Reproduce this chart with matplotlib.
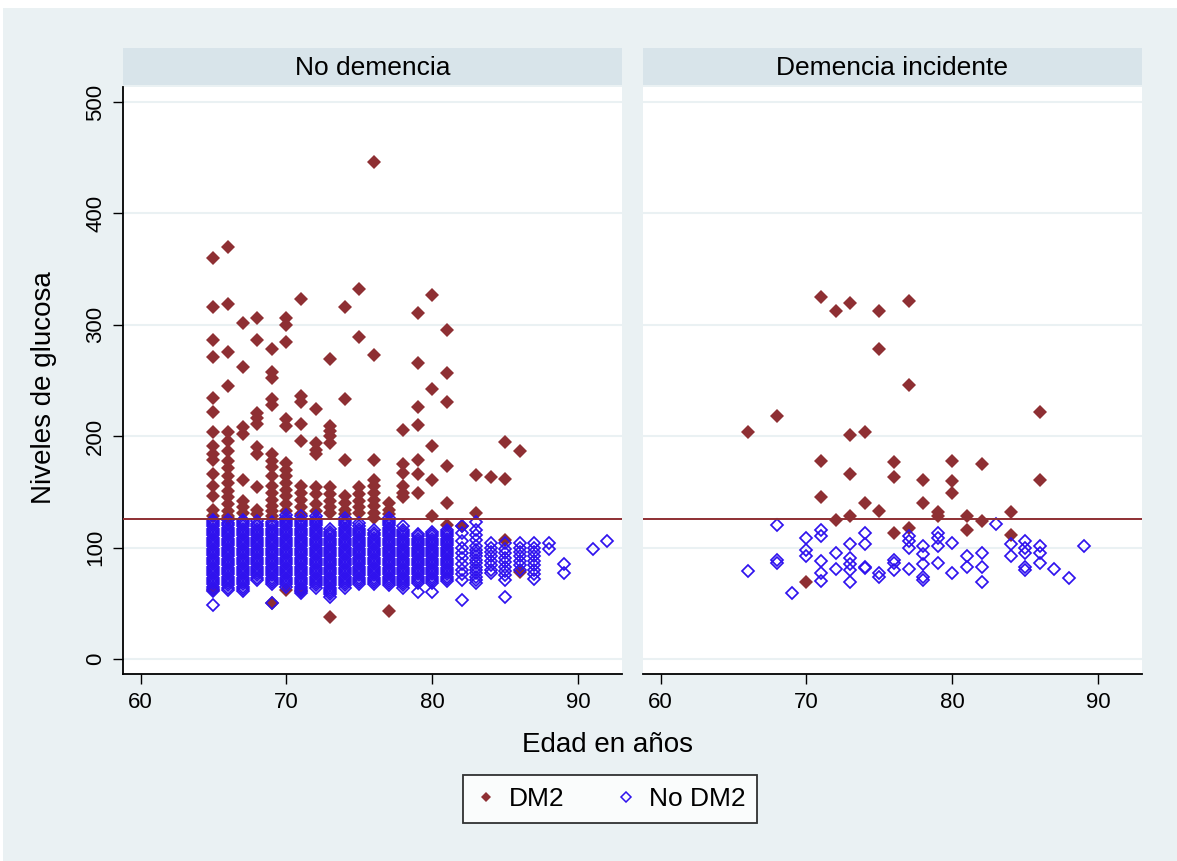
import numpy as np
import matplotlib
matplotlib.use("Agg")
from matplotlib import pyplot as plt
from matplotlib.lines import Line2D
from matplotlib.patches import Rectangle

plt.rcParams['font.family'] = ['Liberation Sans', 'DejaVu Sans']

# ---- datos: panel "No demencia" ----
# DM2 (glucosa por edad)
nd_dm2_age = [65, 65, 65, 65, 65, 65, 65, 65, 65, 65, 65, 65, 65, 65, 65, 65,
              66, 66, 66, 66, 66, 66, 66, 66, 66, 66, 66, 66, 66, 66, 66, 66, 66,
              67, 67, 67, 67, 67, 67, 67, 67,
              68, 68, 68, 68, 68, 68, 68, 68, 68, 68,
              69, 69, 69, 69, 69, 69, 69, 69, 69, 69, 69, 69, 69, 69, 69, 69,
              70, 70, 70, 70, 70, 70, 70, 70, 70, 70, 70, 70, 70, 70,
              71, 71, 71, 71, 71, 71, 71, 71, 71, 71, 71,
              72, 72, 72, 72, 72, 72, 72, 72,
              73, 73, 73, 73, 73, 73, 73, 73, 73, 73, 73,
              74, 74, 74, 74, 74, 74, 74,
              75, 75, 75, 75, 75, 75, 75,
              76, 76, 76, 76, 76, 76, 76, 76, 76, 76,
              77, 77, 77, 77,
              78, 78, 78, 78, 78, 78,
              79, 79, 79, 79, 79, 79, 79,
              80, 80, 80, 80, 80,
              81, 81, 81, 81, 81, 81,
              82, 83, 83, 84, 85, 85, 85, 86, 86]
nd_dm2_glu = [360, 316, 286, 271, 234, 222, 204, 191, 184, 179, 166, 155, 146, 134, 128, 62,
              370, 319, 276, 245, 204, 196, 187, 178, 171, 164, 158, 151, 145, 139, 133, 128, 127,
              302, 262, 208, 202, 161, 142, 136, 131,
              306, 286, 221, 216, 211, 190, 184, 154, 134, 130,
              278, 258, 252, 233, 228, 184, 178, 172, 164, 155, 149, 143, 137, 133, 128, 50,
              306, 300, 285, 215, 209, 176, 170, 164, 158, 152, 146, 139, 133, 62,
              323, 236, 231, 211, 196, 155, 149, 143, 136, 130, 61,
              224, 194, 188, 184, 154, 148, 139, 133,
              269, 209, 205, 200, 194, 154, 148, 142, 136, 131, 38,
              316, 233, 179, 146, 140, 134, 130,
              332, 289, 154, 148, 142, 136, 131,
              446, 273, 179, 161, 155, 149, 143, 137, 131, 127,
              140, 134, 130, 43,
              206, 175, 167, 155, 149, 145,
              311, 266, 226, 210, 179, 166, 149,
              327, 242, 191, 161, 128,
              295, 257, 231, 173, 140, 120,
              119, 165, 131, 163, 195, 162, 107, 187, 78]

# No DM2: una lista de glucosas por cada edad
nd_nodm_ages = [65, 66, 67, 68, 69, 70, 71, 72, 73, 74, 75, 76, 77, 78, 79, 80,
                81, 82, 83, 84, 85, 86, 87, 88, 89, 91, 92]
nd_nodm_glu = [
    [48, 61, 63, 65, 67, 69, 71, 73, 75, 77, 79, 81, 83, 85, 87, 89, 91, 93, 95, 97, 99,
     101, 103, 105, 107, 109, 111, 113, 115, 117, 119, 121, 123, 125],
    [62, 64, 66, 68, 70, 72, 74, 76, 78, 80, 82, 84, 86, 88, 90, 92, 94, 96, 98, 100,
     102, 104, 106, 108, 110, 112, 114, 116, 118, 120, 122, 125],
    [61, 63, 65, 67, 69, 71, 73, 75, 77, 79, 81, 83, 85, 87, 89, 91, 93, 95, 97, 99,
     101, 103, 105, 107, 109, 111, 113, 115, 117, 119, 121, 123, 125],
    [71, 73, 75, 77, 79, 81, 83, 85, 87, 89, 91, 93, 95, 97, 99, 101, 103, 105, 107,
     109, 111, 113, 115, 117, 119, 121, 124],
    [50, 67, 69, 71, 73, 75, 77, 79, 81, 83, 85, 87, 89, 91, 93, 95, 97, 99, 101, 103,
     105, 107, 109, 111, 113, 115, 117, 119, 121, 123],
    [65, 67, 69, 71, 73, 75, 77, 79, 81, 83, 85, 87, 89, 91, 93, 95, 97, 99, 101, 103,
     105, 107, 109, 111, 113, 115, 117, 119, 121, 123, 125, 127, 129],
    [59, 61, 63, 65, 67, 69, 71, 73, 75, 77, 79, 81, 83, 85, 87, 89, 91, 93, 95, 97, 99,
     101, 103, 105, 107, 109, 111, 113, 115, 117, 119, 121, 123, 125, 128],
    [64, 66, 68, 70, 72, 74, 76, 78, 80, 82, 84, 86, 88, 90, 92, 94, 96, 98, 100, 102,
     104, 106, 108, 110, 112, 114, 116, 118, 120, 122, 124, 126, 128],
    [56, 58, 60, 62, 64, 66, 68, 70, 72, 74, 76, 78, 80, 82, 84, 86, 88, 90, 92, 94, 96,
     98, 100, 102, 104, 106, 108, 110, 112, 114, 117],
    [64, 66, 68, 70, 72, 74, 76, 78, 80, 82, 84, 86, 88, 90, 92, 94, 96, 98, 100, 102,
     104, 106, 108, 110, 112, 114, 116, 118, 120, 122, 124, 127],
    [67, 69, 71, 73, 75, 77, 79, 81, 83, 85, 87, 89, 91, 93, 95, 97, 99, 101, 103, 105,
     107, 109, 111, 113, 115, 117, 119, 122],
    [67, 69, 71, 73, 75, 77, 79, 81, 83, 85, 87, 89, 91, 93, 95, 97, 99, 101, 103, 105,
     107, 109, 111, 113, 116],
    [66, 68, 70, 72, 74, 76, 78, 80, 82, 84, 86, 88, 90, 92, 94, 96, 98, 100, 102, 104,
     106, 108, 110, 112, 114, 116, 118, 120, 122, 124, 127],
    [64, 66, 68, 70, 72, 74, 76, 78, 80, 82, 84, 86, 88, 90, 92, 94, 96, 98, 100, 102,
     104, 106, 108, 110, 112, 114, 116, 119],
    [60, 68, 70, 72, 74, 76, 78, 80, 82, 84, 86, 88, 90, 92, 94, 96, 98, 100, 102, 104,
     106, 108, 110, 112],
    [60, 68, 70, 72, 74, 76, 78, 80, 82, 84, 86, 88, 90, 92, 94, 96, 98, 100, 102, 104,
     106, 108, 110, 112, 114],
    [70, 72, 74, 76, 78, 80, 82, 84, 86, 88, 90, 92, 94, 96, 98, 100, 102, 104, 106,
     108, 110, 112, 114, 116],
    [53, 71, 76, 80, 85, 91, 95, 100, 106, 113, 119],
    [68, 71, 74, 77, 80, 83, 86, 89, 92, 95, 98, 101, 107, 111, 116, 123],
    [77, 80, 84, 88, 92, 96, 100, 104],
    [56, 71, 75, 79, 83, 87, 91, 95, 99, 104],
    [80, 84, 88, 92, 96, 100, 104],
    [72, 76, 80, 84, 88, 92, 96, 100, 104],
    [99, 104],
    [77, 85],
    [99],
    [106],
]

# ---- datos: panel "Demencia incidente" ----
di_dm2_age = [71, 72, 73, 75, 77, 75, 77, 68, 66, 73, 74, 86, 71, 76, 80, 82, 73,
              76, 78, 80, 80, 86, 71, 74, 78, 75, 79, 79, 84, 72, 73, 81, 82, 77,
              76, 81, 84, 70]
di_dm2_glu = [325, 312, 320, 312, 321, 278, 246, 218, 204, 201, 204, 222, 178, 177,
              178, 175, 166, 163, 161, 160, 149, 161, 145, 140, 140, 133, 132, 128,
              132, 125, 128, 128, 124, 118, 113, 116, 111, 69]

di_nodm_age = [68, 68, 68, 66, 69, 70, 70, 70, 71, 71, 71, 71, 71, 72, 72, 73, 73,
               73, 73, 73, 74, 74, 74, 74, 75, 75, 76, 76, 76, 77, 77, 77, 77, 78,
               78, 78, 78, 78, 79, 79, 79, 79, 80, 80, 81, 81, 82, 82, 82, 83, 84,
               84, 85, 85, 85, 85, 85, 86, 86, 86, 87, 88, 89]
di_nodm_glu = [120, 89, 86, 79, 59, 109, 98, 92, 116, 110, 88, 77, 70, 95, 81, 103,
               91, 85, 80, 69, 113, 103, 83, 82, 77, 74, 89, 86, 80, 110, 106, 100,
               81, 101, 94, 85, 74, 71, 113, 109, 101, 86, 104, 77, 92, 83, 95, 83,
               69, 121, 103, 92, 106, 100, 95, 83, 80, 101, 95, 86, 81, 73, 101]

umbral = 126
panel_titles = ["No demencia", "Demencia incidente"]

# ---- colores ----
fondo = '#eaf1f3'
tira = '#d8e4ea'
rojo = '#8e2f33'
azul = '#2f12ee'

nd_nodm_x = []
nd_nodm_y = []
for edad, valores in zip(nd_nodm_ages, nd_nodm_glu):
    nd_nodm_x += [edad] * len(valores)
    nd_nodm_y += valores

fig = plt.figure(figsize=(11.77, 8.61), dpi=100, facecolor='white')
W, H = 1177.0, 861.0
fig.patches.append(Rectangle((3 / W, 0), 1, 1 - 8 / H, transform=fig.transFigure,
                             facecolor=fondo, edgecolor='none', zorder=-10))

paneles = [
    (123, nd_dm2_age, nd_dm2_glu, nd_nodm_x, nd_nodm_y),
    (643, di_dm2_age, di_dm2_glu, di_nodm_age, di_nodm_glu),
]

for i, (x0, xa, ya, xb, yb) in enumerate(paneles):
    ax = fig.add_axes([x0 / W, 1 - 674 / H, 499 / W, 587 / H])
    ax.set_facecolor('white')
    for g in [0, 100, 200, 300, 400, 500]:
        ax.axhline(g, color=fondo, lw=1.5, zorder=0)
    ax.plot(xa, ya, linestyle='none', marker='D', markersize=7, color=rojo,
            markeredgewidth=0, zorder=2)
    ax.plot(xb, yb, linestyle='none', marker='D', markersize=6.3, markerfacecolor='none',
            markeredgecolor=azul, markeredgewidth=1.25, zorder=3)
    ax.axhline(umbral, color=rojo, lw=1.4, zorder=4)
    ax.set_xlim(58.8, 93)
    ax.set_ylim(-13.5, 513.5)
    ax.set_xticks([60, 70, 80, 90])
    ax.tick_params(axis='x', direction='out', length=7, width=1, labelsize=16, pad=6)
    for s in ['top', 'right']:
        ax.spines[s].set_visible(False)
    ax.spines['bottom'].set_linewidth(1.3)
    if i == 0:
        ax.set_yticks([0, 100, 200, 300, 400, 500])
        ax.tick_params(axis='y', direction='out', length=7, width=1, labelsize=16, pad=5)
        for lab in ax.get_yticklabels():
            lab.set_rotation(90)
            lab.set_va('center')
        ax.spines['left'].set_linewidth(1.3)
    else:
        ax.set_yticks([])
        ax.spines['left'].set_visible(False)

    sa = fig.add_axes([x0 / W, 1 - 85 / H, 499 / W, 37 / H])
    sa.set_facecolor(tira)
    sa.set_xticks([])
    sa.set_yticks([])
    for s in sa.spines.values():
        s.set_visible(False)
    sa.text(0.5, 0.45, panel_titles[i], ha='center', va='center', fontsize=19,
            transform=sa.transAxes)

fig.text(44 / W, 1 - 388 / H, "Niveles de glucosa", rotation=90, ha='center',
         va='center', fontsize=20)
fig.text(607 / W, 1 - 745 / H, "Edad en años", ha='center', va='center', fontsize=20)

handles = [
    Line2D([], [], linestyle='none', marker='D', markersize=5.5, color=rojo, markeredgewidth=0),
    Line2D([], [], linestyle='none', marker='D', markersize=5, markerfacecolor='none',
           markeredgecolor=azul, markeredgewidth=1.1),
]
leg = fig.legend(handles, ["DM2", "No DM2"], loc='center', ncol=2,
                 bbox_to_anchor=(610 / W, 1 - 799 / H), fontsize=19, frameon=True,
                 fancybox=False, edgecolor='black', handletextpad=0.4, columnspacing=1.9,
                 handlelength=0.9, borderpad=0.45, borderaxespad=0)
leg.get_frame().set_linewidth(1.3)

fig.savefig("out.png", dpi=100, facecolor=fig.get_facecolor())
